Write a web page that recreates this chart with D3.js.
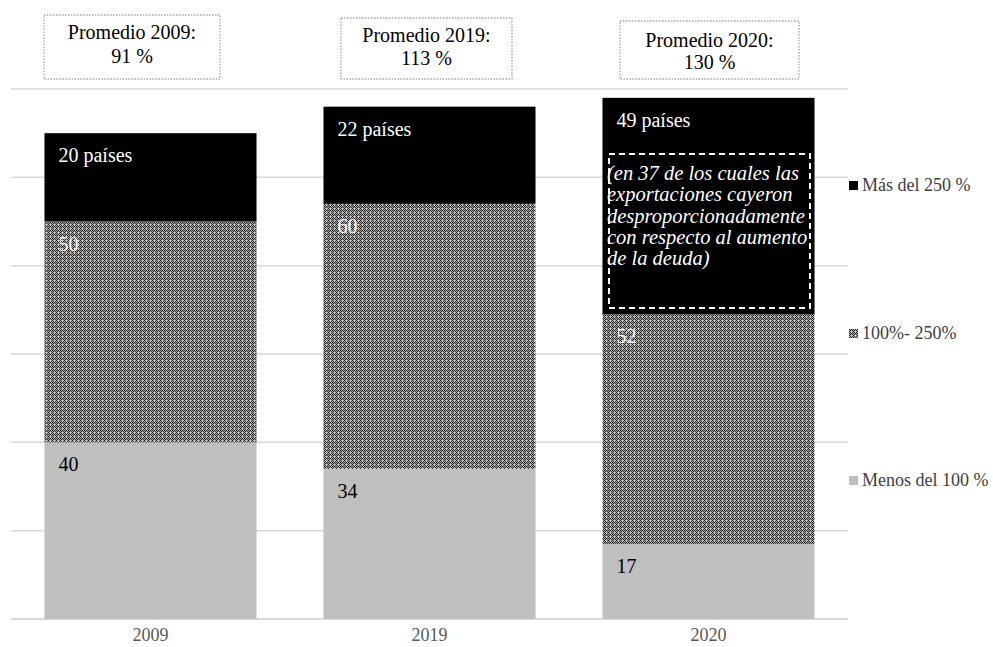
<!DOCTYPE html>
<html>
<head>
<meta charset="utf-8">
<script src="https://cdn.jsdelivr.net/npm/d3@7"></script>
<style>
  html, body { margin: 0; padding: 0; background: #fff; }
  svg { display: block; }
  svg text { font-family: "Liberation Serif", "DejaVu Serif", serif; }
</style>
</head>
<body>
<svg id="chart" width="993" height="647"></svg>
<script>
// ---------- data ----------
const categories = ["2009", "2019", "2020"];
const seriesKeys = ["menos100", "entre100y250", "mas250"];
const seriesNames = ["Menos del 100 %", "100%- 250%", "Más del 250 %"];
const menos100 = [40, 34, 17];
const entre100y250 = [50, 60, 52];
const mas250 = [20, 22, 49];
const topSegmentLabels = ["20 países", "22 países", "49 países"];
const promedioTitles = ["Promedio 2009:", "Promedio 2019:", "Promedio 2020:"];
const promedioValues = ["91 %", "113 %", "130 %"];
const yTicks = [0, 20, 40, 60, 80, 100, 120];
const noteLines = [
  "(en 37 de los cuales las",
  "exportaciones cayeron",
  "desproporcionadamente",
  "con respecto al aumento",
  "de la deuda)"
];

// ---------- build ----------
const FONT = "Liberation Serif";
const rows = categories.map((c, i) => ({
  cat: c,
  menos100: menos100[i],
  entre100y250: entre100y250[i],
  mas250: mas250[i]
}));

const svg = d3.select("#chart");

// pattern for 100%-250%
const defs = svg.append("defs");
const pat = defs.append("pattern")
  .attr("id", "hatch")
  .attr("patternUnits", "userSpaceOnUse")
  .attr("width", 4).attr("height", 4);
pat.append("rect").attr("width", 4).attr("height", 4).attr("fill", "#a8a8a8");
[[0,0],[0,2],[1,1],[1,3],[3,1],[3,3],[2,2]].forEach(([px,py],k) => {
  pat.append("rect").attr("x", px).attr("y", py).attr("width", 1).attr("height", 1)
    .attr("fill", k % 3 === 0 ? "#1a1a1a" : "#333333");
});
pat.append("rect").attr("x", 2).attr("y", 0).attr("width", 1).attr("height", 1).attr("fill", "#dcdcdc");
pat.append("rect").attr("x", 2).attr("y", 1).attr("width", 1).attr("height", 1).attr("fill", "#cfcfcf");

const fills = {
  menos100: "#bfbfbf",
  entre100y250: "url(#hatch)",
  mas250: "#000000"
};
const labelColors = {
  menos100: "#000000",
  entre100y250: "#ffffff",
  mas250: "#ffffff"
};

const x = d3.scaleBand().domain(categories).range([11, 848])
  .paddingInner(0.24).paddingOuter(0.12);
const y = d3.scaleLinear().domain([0, 120]).range([619, 89]);

// gridlines
svg.append("g").selectAll("line").data(yTicks).join("line")
  .attr("x1", 11).attr("x2", 848)
  .attr("y1", d => y(d)).attr("y2", d => y(d))
  .attr("stroke", "#d9d9d9")
  .attr("stroke-width", d => d === 0 ? 2 : 1.5);

// stacked bars
const stack = d3.stack().keys(seriesKeys);
const stacked = stack(rows);

const layers = svg.append("g").selectAll("g").data(stacked).join("g")
  .attr("fill", d => fills[d.key]);
layers.selectAll("rect").data(d => d.map(v => ({ key: d.key, v }))).join("rect")
  .attr("x", d => x(d.v.data.cat))
  .attr("width", x.bandwidth())
  .attr("y", d => y(d.v[1]))
  .attr("height", d => y(d.v[0]) - y(d.v[1]));

// segment labels
const labelG = svg.append("g");
stacked.forEach(layer => {
  layer.forEach((v, i) => {
    const txt = layer.key === "mas250" ? topSegmentLabels[i] : String(v[1] - v[0]);
    labelG.append("text")
      .attr("x", x(v.data.cat) + 14)
      .attr("y", y(v[1]) + 29)
      .attr("font-family", FONT)
      .attr("font-size", 20)
      .attr("fill", labelColors[layer.key])
      .text(txt);
  });
});

// note box in 2020 black segment
const noteG = svg.append("g");
noteG.append("rect")
  .attr("x", 609).attr("y", 154).attr("width", 201).attr("height", 154)
  .attr("fill", "none").attr("stroke", "#ffffff")
  .attr("stroke-width", 2).attr("stroke-dasharray", "6,4");
noteG.selectAll("text").data(noteLines).join("text")
  .attr("x", 607)
  .attr("y", (d, i) => 180 + i * 21.3)
  .attr("fill", "#ffffff")
  .attr("font-family", FONT)
  .attr("font-size", 20.5)
  .attr("font-style", "italic")
  .text(d => d);

// x axis
const xAxis = svg.append("g").attr("transform", "translate(0,619)")
  .call(d3.axisBottom(x).tickSize(0));
xAxis.select(".domain").remove();
xAxis.attr("font-family", FONT);
xAxis.selectAll("text")
  .attr("y", 0).attr("dy", 22)
  .attr("font-family", FONT)
  .attr("font-size", 18)
  .attr("fill", "#595959");

// promedio boxes
const boxLayout = [
  { x0: 44, x1: 220, y0: 15, y1: 79, b1: 39, b2: 63 },
  { x0: 341, x1: 512, y0: 18, y1: 79, b1: 42, b2: 65 },
  { x0: 620, x1: 799, y0: 21, y1: 79, b1: 47, b2: 69 }
];
const boxG = svg.append("g").selectAll("g").data(boxLayout).join("g");
boxG.append("rect")
  .attr("x", d => d.x0).attr("y", d => d.y0)
  .attr("width", d => d.x1 - d.x0).attr("height", d => d.y1 - d.y0)
  .attr("fill", "#ffffff").attr("stroke", "#a6a6a6")
  .attr("stroke-width", 1.3).attr("stroke-dasharray", "1.5,1.5");
boxG.append("text")
  .attr("x", d => (d.x0 + d.x1) / 2).attr("y", d => d.b1)
  .attr("text-anchor", "middle").attr("font-family", FONT)
  .attr("font-size", 20).attr("fill", "#000")
  .text((d, i) => promedioTitles[i]);
boxG.append("text")
  .attr("x", d => (d.x0 + d.x1) / 2).attr("y", d => d.b2)
  .attr("text-anchor", "middle").attr("font-family", FONT)
  .attr("font-size", 20).attr("fill", "#000")
  .text((d, i) => promedioValues[i]);

// legend (top to bottom: Más del 250 %, 100%-250%, Menos del 100 %)
const legendOrder = ["mas250", "entre100y250", "menos100"];
const legendY = [191, 339, 486];
const legG = svg.append("g").selectAll("g").data(legendOrder).join("g")
  .attr("transform", (d, i) => `translate(849,${legendY[i]})`);
legG.append("rect")
  .attr("x", 0).attr("y", -10).attr("width", 9).attr("height", 9)
  .attr("fill", d => fills[d]);
legG.append("text")
  .attr("x", 13).attr("y", 0)
  .attr("font-family", FONT)
  .attr("font-size", 18).attr("fill", "#404040")
  .text(d => seriesNames[seriesKeys.indexOf(d)]);
</script>
</body>
</html>
